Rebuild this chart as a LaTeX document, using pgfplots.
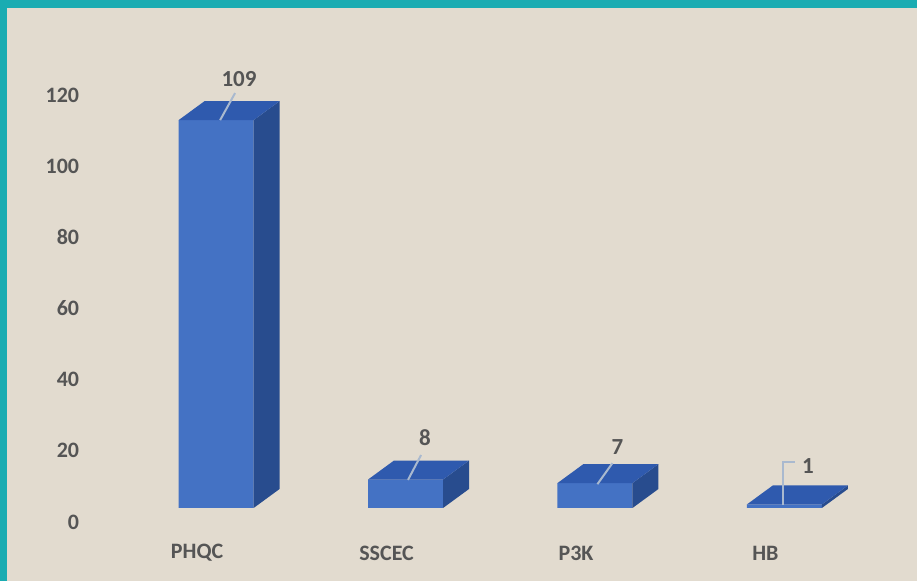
\documentclass[border=0pt]{standalone}
\usepackage{pgfplots}
\pgfplotsset{compat=1.18}
\usepackage{fontspec}
\setmainfont{Carlito}
\definecolor{bg}{HTML}{E2DBCF}
\definecolor{frame}{HTML}{1AACB2}
\definecolor{front}{HTML}{4472C4}
\definecolor{topf}{HTML}{2F5AAE}
\definecolor{side}{HTML}{284C8E}
\definecolor{txt}{HTML}{555555}
\definecolor{leader}{HTML}{A9B9CF}
\begin{document}
\begin{tikzpicture}
\begin{axis}[
  x=94.75pt, y=1.78pt,
  xmin=-1.140, xmax=3.699, ymin=-20.5, ymax=142.7,
  enlargelimits=false,
  axis background/.style={fill=bg},
  axis line style={draw=none},
  major tick length=0pt,
  /pgf/number format/assume math mode=true,
  xtick={0,1,2,3},
  xticklabels={PHQC,SSCEC,P3K,HB},
  ytick={0,20,40,60,80,100,120},
  tick label style={font=\fontsize{11}{13}\selectfont\bfseries, text=txt},
  xticklabel style={anchor=center, yshift=14pt, xshift=-9.5pt},
  yticklabel style={anchor=east, xshift=43pt, yshift=-7pt},
]
% front faces
\addplot[ybar, bar width=0.396, fill=front, draw=none, bar shift=0pt] coordinates {(0,109) (1,8) (2,7) (3,1)};
% side faces
\addplot[fill=side, draw=none] coordinates {(0.198,0) (0.335,5.34) (0.335,114.34) (0.198,109)} -- cycle;
\addplot[fill=side, draw=none] coordinates {(1.198,0) (1.335,5.34) (1.335,13.34) (1.198,8)} -- cycle;
\addplot[fill=side, draw=none] coordinates {(2.198,0) (2.335,5.34) (2.335,12.34) (2.198,7)} -- cycle;
\addplot[fill=side, draw=none] coordinates {(3.198,0) (3.335,5.34) (3.335,6.34) (3.198,1)} -- cycle;
% top faces
\addplot[fill=topf, draw=none] coordinates {(-0.198,109) (0.198,109) (0.335,114.34) (-0.061,114.34)} -- cycle;
\addplot[fill=topf, draw=none] coordinates {(0.802,8) (1.198,8) (1.335,13.34) (0.939,13.34)} -- cycle;
\addplot[fill=topf, draw=none] coordinates {(1.802,7) (2.198,7) (2.335,12.34) (1.939,12.34)} -- cycle;
\addplot[fill=topf, draw=none] coordinates {(2.802,1) (3.198,1) (3.335,6.34) (2.939,6.34)} -- cycle;
% leader lines
\addplot[leader, line width=1pt] coordinates {(0.021,109) (0.100,116.6)};
\addplot[leader, line width=1pt] coordinates {(1.013,7.9) (1.082,14.9)};
\addplot[leader, line width=1pt] coordinates {(2.013,6.7) (2.092,12.6)};
\addplot[leader, line width=1pt] coordinates {(2.992,0.84) (2.992,12.9) (3.055,12.9)};
% data labels
\addplot[draw=none, mark=none, nodes near coords, point meta=explicit symbolic,
  every node near coord/.style={anchor=center, font=\fontsize{11.5}{13}\selectfont\bfseries, text=txt}]
  coordinates {(0.121,120.5)[109] (1.103,19.7)[8] (2.119,17.1)[7] (3.124,11.8)[1]};
% frame
\fill[frame] (rel axis cs:0,0.9862) rectangle (rel axis cs:1,1);
\fill[frame] (rel axis cs:0,0) rectangle (rel axis cs:0.00763,1);
\end{axis}
\end{tikzpicture}
\end{document}
